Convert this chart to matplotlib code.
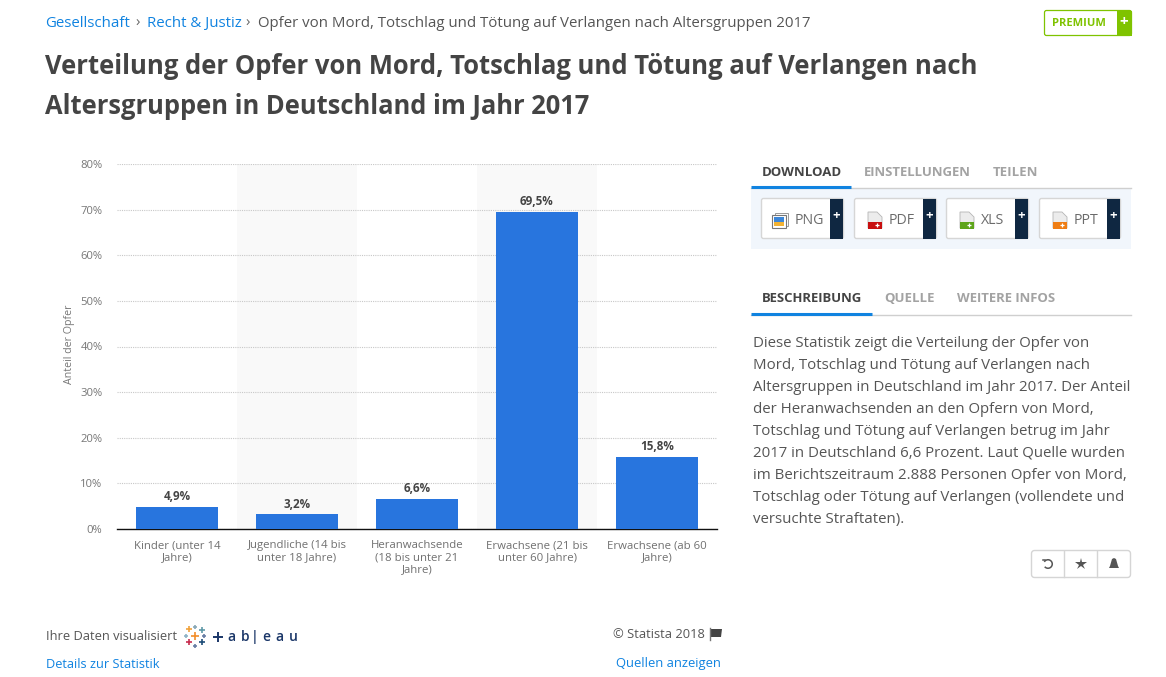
import matplotlib
matplotlib.use("Agg")
import matplotlib.pyplot as plt
from matplotlib.patches import Rectangle, FancyBboxPatch, Polygon, Arc

W, H = 1166, 677
categories = ["Kinder (unter 14\nJahre)", "Jugendliche (14 bis\nunter 18 Jahre)",
              "Heranwachsende\n(18 bis unter 21\nJahre)", "Erwachsene (21 bis\nunter 60 Jahre)",
              "Erwachsene (ab 60\nJahre)"]
values = [4.9, 3.2, 6.6, 69.5, 15.8]
value_labels = ["4,9%", "3,2%", "6,6%", "69,5%", "15,8%"]
y_ticks = [0, 10, 20, 30, 40, 50, 60, 70, 80]
y_label = "Anteil der Opfer"
title_lines = ["Verteilung der Opfer von Mord, Totschlag und Tötung auf Verlangen nach",
               "Altersgruppen in Deutschland im Jahr 2017"]
description = ["Diese Statistik zeigt die Verteilung der Opfer von",
               "Mord, Totschlag und Tötung auf Verlangen nach",
               "Altersgruppen in Deutschland im Jahr 2017. Der Anteil",
               "der Heranwachsenden an den Opfern von Mord,",
               "Totschlag und Tötung auf Verlangen betrug im Jahr",
               "2017 in Deutschland 6,6 Prozent. Laut Quelle wurden",
               "im Berichtszeitraum 2.888 Personen Opfer von Mord,",
               "Totschlag oder Tötung auf Verlangen (vollendete und",
               "versuchte Straftaten)."]

plt.rcParams["font.family"] = ["Open Sans", "DejaVu Sans"]
BLUE = "#1083e0"; DARK = "#444444"; GREY = "#a3a3a3"; BAR = "#2875de"
NAVY = "#0f2741"; GREEN = "#7fc300"

fig = plt.figure(figsize=(W / 100, H / 100), dpi=100, facecolor="white")

# Chart
ax = fig.add_axes([117 / W, 1 - 529 / H, 600 / W, 365 / H])
ax.set_xlim(-0.5, 4.5)
ax.set_ylim(0, 80)
for i in range(len(values)):
    if i % 2 == 1:
        ax.axvspan(i - 0.5, i + 0.5, color="#f9f9f9", lw=0, zorder=0)
ax.set_yticks(y_ticks)
ax.set_yticklabels([f"{t}%" for t in y_ticks], fontsize=8.1, color="#777777", va="center_baseline")
ax.yaxis.grid(True, color="#c8c8c8", linestyle=(0, (1, 1)), linewidth=0.8, zorder=1)
ax.set_axisbelow(True)
ax.tick_params(axis="y", length=0, pad=10.5)
ax.tick_params(axis="x", length=0, pad=8.2)
ax.set_xticks(range(len(categories)))
ax.set_xticklabels(categories, fontsize=8.2, color="#707070", linespacing=1.1)
for s in ["top", "left", "right"]:
    ax.spines[s].set_visible(False)
ax.spines["bottom"].set_color("#111111")
ax.spines["bottom"].set_linewidth(1.0)
ax.patch.set_alpha(0)
ax.bar(range(len(values)), values, width=0.69, color=BAR, zorder=3)
for i, v in enumerate(values):
    ax.annotate(value_labels[i], (i, v), xytext=(0, 2.8), textcoords="offset points",
                ha="center", va="bottom", fontsize=8.4, fontweight="bold", color=DARK)
ax.set_ylabel(y_label, fontsize=7.7, color="#777777", labelpad=4, y=0.505)

# Page chrome drawn in pixel coordinates
ui = fig.add_axes([0, 0, 1, 1], zorder=5)
ui.set_xlim(0, W); ui.set_ylim(H, 0); ui.axis("off"); ui.patch.set_alpha(0)

def T(x, y, s, size=10, color=DARK, weight="normal", ha="left", va="center", **kw):
    return ui.text(x, y, s, fontsize=size, color=color, fontweight=weight, ha=ha, va=va, **kw)

def box(x, y, w, h, fc="white", ec="#d5d5d5", lw=1, r=2, z=2):
    p = FancyBboxPatch((x + r, y + r), w - 2 * r, h - 2 * r, boxstyle=f"round,pad={r}",
                       fc=fc, ec=ec, lw=lw, zorder=z, mutation_aspect=1)
    ui.add_patch(p)

# Breadcrumb
T(45, 27, "Gesellschaft", 10.8, BLUE, va="baseline")
T(135, 27, "›", 10.8, "#666666", va="baseline")
T(147, 27, "Recht & Justiz", 10.8, BLUE, va="baseline")
T(245, 27, "›", 10.8, "#666666", va="baseline")
T(258, 27, "Opfer von Mord, Totschlag und Tötung auf Verlangen nach Altersgruppen 2017", 10.8, "#555555", va="baseline")

# Title
T(45, 67, title_lines[0], 18.45, DARK, "bold")
T(45, 106, title_lines[1], 18.4, DARK, "bold")

# Premium
box(1044.5, 10.5, 87, 25, fc="white", ec=GREEN, lw=0.9)
ui.add_patch(Rectangle((1117, 11), 14.5, 24.5, fc=GREEN, ec=GREEN, lw=0, zorder=3))
T(1052, 23.5, "PREMIUM", 8, GREEN, "bold")
T(1124, 22, "+", 11, "white", "bold", ha="center", zorder=4)

# Download tabs
T(762, 172, "DOWNLOAD", 9.5, DARK, "bold")
T(864, 172, "EINSTELLUNGEN", 9.45, GREY, "bold")
T(993, 172, "TEILEN", 9.5, GREY, "bold")
ui.plot([751, 1131], [187.5, 187.5], color="#cfcfcf", lw=1)
ui.plot([751, 851], [187, 187], color=BLUE, lw=2.2, solid_capstyle="butt", zorder=3)
ui.add_patch(Rectangle((751, 188), 380, 61, fc="#f1f6fc", ec="none"))

buttons = [(761, 843, "PNG", 795, "#f2b233"), (854, 936, "PDF", 889, "#c80f0f"),
           (946, 1028, "XLS", 981, "#5ea51a"), (1039, 1120, "PPT", 1074, "#ef7d13")]
for x0, x1, lab, tx, col in buttons:
    box(x0 + 0.5, 198.5, x1 - x0, 40, ec="#d6d6d6", lw=1)
    ui.add_patch(Rectangle((x1 - 13, 199), 13, 40, fc=NAVY, ec="none", zorder=3))
    T(x1 - 6.5, 216, "+", 9.5, "white", "bold", ha="center", zorder=4)
    T(tx, 221, lab, 10.2, "#6b6b6b")
    if lab == "PNG":
        ix = 772
        ui.add_patch(Rectangle((ix + 3, 213), 13, 13, fc="white", ec="#999999", lw=0.7, zorder=3))
        ui.add_patch(Rectangle((ix, 215), 14, 13, fc="white", ec="#777777", lw=0.8, zorder=3))
        ui.add_patch(Rectangle((ix + 2, 217), 10, 5, fc="#3c86d8", ec="none", zorder=4))
        ui.add_patch(Rectangle((ix + 2, 222), 10, 4, fc=col, ec="none", zorder=4))
    else:
        ix = tx - 21
        ui.add_patch(Polygon([(ix, 212), (ix + 9, 212), (ix + 14, 217), (ix + 14, 228), (ix, 228)],
                             fc="#ececec", ec="#b5b5b5", lw=0.6, zorder=3))
        ui.add_patch(Rectangle((ix, 222), 14, 6.5, fc=col, ec="none", zorder=4))
        ui.plot([ix + 9], [225], marker="+", ms=3.5, mew=0.9, color="white", zorder=5)

# Description tabs
T(762, 298.5, "BESCHREIBUNG", 9.45, DARK, "bold")
T(884, 298.5, "QUELLE", 9.5, GREY, "bold")
T(957, 298.5, "WEITERE INFOS", 9.45, GREY, "bold")
ui.plot([751, 1131], [314.5, 314.5], color="#cfcfcf", lw=1)
ui.plot([751, 872], [314, 314], color=BLUE, lw=2.2, solid_capstyle="butt", zorder=3)

for i, line in enumerate(description):
    T(753, 343.5 + i * 21.95, line, 10.83, "#555555")

# Action buttons
box(1031.5, 550.5, 99, 27, ec="#d5d5d5", lw=1, r=3)
ui.plot([1063.5, 1063.5], [551, 577], color="#d5d5d5", lw=1, zorder=3)
ui.plot([1096.5, 1096.5], [551, 577], color="#d5d5d5", lw=1, zorder=3)
ui.add_patch(Arc((1048, 564), 8.5, 8.5, theta1=-150, theta2=140, ec="#555555", lw=1.1, zorder=4))
ui.plot([1043, 1045], [560, 560], color="#555555", lw=1.1, zorder=4)
ui.plot([1080.5], [564], marker="*", ms=9, color="#555555", mew=0, zorder=4)
ui.add_patch(Polygon([(1114, 558), (1116, 559), (1118, 566), (1119, 568), (1109, 568), (1110, 566), (1112, 559)],
                     fc="#555555", ec="none", zorder=4))

# Footer
T(46, 636, "Ihre Daten visualisiert", 9.25, "#555555")
T(46, 664, "Details zur Statistik", 9.2, BLUE)
for x, y, c, s in [(195, 636, "#f28e2b", 5.6), (189, 629, "#f0a23c", 4.8), (202, 630, "#5f9aa8", 4.8),
                   (189, 642, "#c72e4f", 5), (202, 642, "#1f4e79", 5), (195, 627, "#8aa9b8", 3.2),
                   (195, 646, "#6a7fa5", 3.2), (186, 636, "#8fb4c7", 3.2), (204, 636, "#6a7fa5", 3.2)]:
    ui.plot([x], [y], marker="+", ms=s, mew=1.2, color=c, zorder=4)
ui.plot([218], [637], marker="+", ms=7.5, mew=1.4, color="#1a3668", zorder=4)
for x, ch in [(231.5, "a"), (245.5, "b"), (255, "|"), (266.5, "e"), (279.5, "a"), (293.5, "u")]:
    T(x, 637, ch, 10, "#1a3668", "semibold", ha="center")

T(613, 635, "© Statista 2018", 9.3, "#555555")
ui.plot([709.5, 709.5], [628, 640], color="#777777", lw=1)
ui.add_patch(Polygon([(711, 629), (722, 629), (721, 637), (711, 637)], fc="#444444", ec="none"))
T(616, 664, "Quellen anzeigen", 9.4, BLUE)

fig.savefig("out.png", dpi=100)
